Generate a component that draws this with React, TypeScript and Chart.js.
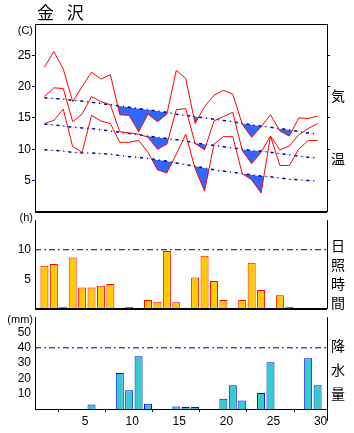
import React, { useEffect, useRef } from 'react';
import { Chart, registerables } from 'chart.js';
Chart.register(...registerables);

const days = [1,2,3,4,5,6,7,8,9,10,11,12,13,14,15,16,17,18,19,20,21,22,23,24,25,26,27,28,29,30];
const maxTemp = [23.1,25.6,22.8,17.6,20.0,22.3,21.2,21.9,15.5,15.4,12.8,15.6,14.4,15.6,22.6,21.3,14.1,16.8,18.6,19.4,18.8,14.0,11.9,13.6,15.5,12.9,12.1,15.0,14.9,15.3];
const meanTemp = [18.4,19.8,19.7,14.4,15.6,18.4,17.6,17.1,12.8,12.6,12.4,11.9,10.0,10.8,16.3,16.5,10.9,9.9,14.5,15.2,15.9,9.8,7.7,9.5,12.1,9.9,10.5,12.3,13.3,14.1];
const minTemp = [14.1,14.6,16.4,10.4,9.5,15.4,14.5,14.1,11.1,11.1,11.4,9.5,6.7,6.2,9.2,12.4,6.9,3.3,10.8,12.0,12.0,6.1,5.1,3.0,12.1,7.4,7.4,10.0,11.4,11.4];
const normalMax = [18.2,18.1,18.0,17.8,17.7,17.5,17.3,17.1,16.9,16.7,16.5,16.3,16.1,15.9,15.6,15.4,15.2,15.0,14.8,14.6,14.4,14.1,13.9,13.7,13.5,13.3,13.1,12.8,12.6,12.4];
const normalMean = [14.0,13.9,13.7,13.5,13.4,13.3,13.1,12.9,12.7,12.5,12.3,12.1,11.9,11.7,11.5,11.3,11.0,10.8,10.6,10.4,10.2,10.0,9.8,9.7,9.5,9.3,9.1,8.9,8.7,8.6];
const normalMin = [9.9,9.8,9.7,9.5,9.4,9.4,9.3,9.2,9.0,8.8,8.7,8.5,8.3,8.1,7.8,7.5,7.3,7.0,6.7,6.5,6.3,6.1,5.9,5.7,5.6,5.4,5.2,5.1,5.0,4.9];
const sunshine = [7.3,7.6,0,8.7,3.6,3.6,3.9,4.2,null,0,null,1.5,1.2,9.8,1.1,null,5.3,9.0,4.7,1.5,null,1.5,7.8,3.2,null,2.3,0.3,null,null,null];
const precipitation = [null,null,null,null,null,2.9,null,null,23.5,12.3,34.4,3.5,null,null,1.7,0,0,null,null,6.7,15.6,5.6,null,10.4,30.6,null,null,null,33.1,15.6];

const tempTicks = [5,10,15,20,25];
const sunTicks = [5,10];
const precipTicks = [10,20,30,40,50];
const dayTicks = [5,10,15,20,25,30];
const tempRange = [0,30];
const sunRange = [0,15];
const precipRange = [0,60];
const dayRange = [0,31];
const sunReference = 10;
const precipReference = 40;

const W = 354;
const NAVY = '#000080';
const FONT = { family: '"Liberation Sans", Arial, sans-serif', size: 12 };

const pts = (arr: (number | null)[]) => days.map((d, i) => ({ x: d, y: arr[i] }));
const refLine = (v: number) => [{ x: dayRange[0], y: v }, { x: dayRange[1], y: v }];

const framePlugin = {
  id: 'frame',
  afterDraw(chart: any, _args: any, opts: any) {
    const { ctx, chartArea: a } = chart;
    ctx.save();
    ctx.strokeStyle = '#000';
    const h = (y: number, w: number) => {
      ctx.lineWidth = w;
      ctx.beginPath();
      const yy = w % 2 === 1 ? Math.round(y) + 0.5 : Math.round(y);
      ctx.moveTo(a.left, yy);
      ctx.lineTo(a.right, yy);
      ctx.stroke();
    };
    if (opts.top) h(a.top, opts.top);
    if (opts.bottom) h(a.bottom, opts.bottom);
    if (opts.right) {
      ctx.lineWidth = 1;
      ctx.beginPath();
      ctx.moveTo(Math.round(a.right) + 0.5, a.top);
      ctx.lineTo(Math.round(a.right) + 0.5, a.bottom + (opts.rightExtend || 0));
      ctx.stroke();
    }
    ctx.restore();
  },
};

function yAxis(range: number[], ticks: number[], tickColor: string) {
  return {
    type: 'linear',
    position: 'left',
    min: range[0],
    max: range[1],
    afterFit: (s: any) => { s.width = 35; },
    afterBuildTicks: (s: any) => { s.ticks = ticks.map((v) => ({ value: v })); },
    border: { color: '#000', width: 1 },
    grid: { drawOnChartArea: false, tickLength: 3, color: tickColor },
    ticks: { color: '#000', font: FONT, padding: 1 },
  };
}

function hiddenX() {
  return { type: 'linear', min: dayRange[0], max: dayRange[1], display: false, offset: false };
}

function useChart(ref: any, build: () => any) {
  useEffect(() => {
    const chart = new Chart(ref.current, build());
    return () => chart.destroy();
  }, []);
}

const base = {
  responsive: false,
  animation: false,
  devicePixelRatio: 1,
};

function TempChart() {
  const ref = useRef<HTMLCanvasElement>(null);
  useChart(ref, () => {
    const red = (data: number[], target: number) => ({
      type: 'line', data: pts(data), borderColor: '#ff0000', borderWidth: 1, pointRadius: 0, tension: 0,
      fill: { target, above: 'rgba(0,0,0,0)', below: '#3366ff' },
    });
    const normal = (data: number[]) => ({
      type: 'line', data: pts(data), borderColor: NAVY, borderWidth: 1.5, borderDash: [3, 4, 1, 4], pointRadius: 0, tension: 0, fill: false,
    });
    return {
      type: 'line',
      data: { datasets: [red(maxTemp, 3), red(meanTemp, 4), red(minTemp, 5), normal(normalMax), normal(normalMean), normal(normalMin)] },
      options: {
        ...base,
        layout: { padding: { top: 24, bottom: 4, right: 27, left: 0 } },
        scales: {
          x: hiddenX(),
          y: yAxis(tempRange, tempTicks, NAVY),
          yR: {
            type: 'linear', position: 'right', min: tempRange[0], max: tempRange[1],
            afterFit: (s: any) => { s.width = 0; },
            afterBuildTicks: (s: any) => { s.ticks = tempTicks.map((v) => ({ value: v })); },
            border: { color: '#000', width: 1 },
            grid: { drawOnChartArea: false, tickLength: 3, color: NAVY },
            ticks: { display: false },
          },
        },
        plugins: { legend: { display: false }, tooltip: { enabled: false }, filler: { drawTime: 'beforeDatasetsDraw' }, frame: { top: 1, bottom: 2, right: true } },
      },
      plugins: [framePlugin],
    };
  });
  return <canvas ref={ref} width={W} height={220} style={{ position: 'absolute', left: 0, top: 0, width: W, height: 220 }} />;
}

function SunChart() {
  const ref = useRef<HTMLCanvasElement>(null);
  useChart(ref, () => ({
    type: 'bar',
    data: {
      datasets: [
        { type: 'line', data: refLine(sunReference), borderColor: NAVY, borderWidth: 1, borderDash: [6, 3, 2, 3], pointRadius: 0 },
        { type: 'bar', data: pts(sunshine), backgroundColor: '#ffcc00', borderColor: '#ff0000', borderWidth: 1, barPercentage: 0.85, categoryPercentage: 1, minBarLength: 2 },
      ],
    },
    options: {
      ...base,
      layout: { padding: { top: 4, bottom: 4, right: 27, left: 0 } },
      scales: { x: hiddenX(), y: yAxis(sunRange, sunTicks, 'rgba(0,0,0,0)') },
      plugins: { legend: { display: false }, tooltip: { enabled: false }, frame: { bottom: 2, right: true } },
    },
    plugins: [framePlugin],
  }));
  return <canvas ref={ref} width={W} height={105} style={{ position: 'absolute', left: 0, top: 212, width: W, height: 105 }} />;
}

function PrecipChart() {
  const ref = useRef<HTMLCanvasElement>(null);
  useChart(ref, () => ({
    type: 'bar',
    data: {
      datasets: [
        { type: 'line', data: refLine(precipReference), borderColor: NAVY, borderWidth: 1, borderDash: [6, 3, 2, 3], pointRadius: 0 },
        { type: 'bar', data: pts(precipitation), backgroundColor: '#33cccc', borderColor: '#0000ff', borderWidth: 1, barPercentage: 0.85, categoryPercentage: 1, minBarLength: 2 },
      ],
    },
    options: {
      ...base,
      layout: { padding: { top: 4, bottom: 0, right: 27, left: 0 } },
      scales: {
        x: {
          type: 'linear', min: dayRange[0], max: dayRange[1], offset: false,
          afterFit: (s: any) => { s.height = 24; },
          afterBuildTicks: (s: any) => { s.ticks = dayTicks.map((v) => ({ value: v })); },
          border: { color: '#000', width: 1 },
          grid: { drawOnChartArea: false, tickLength: 3, color: NAVY },
          ticks: { color: '#000', font: FONT, padding: 2, labelOffset: 3, maxRotation: 0 },
        },
        y: yAxis(precipRange, precipTicks, 'rgba(0,0,0,0)'),
      },
      plugins: { legend: { display: false }, tooltip: { enabled: false }, frame: { right: true, rightExtend: 12 } },
    },
    plugins: [framePlugin],
  }));
  return <canvas ref={ref} width={W} height={124} style={{ position: 'absolute', left: 0, top: 309, width: W, height: 124 }} />;
}

const cjk = '"Noto Sans CJK JP", sans-serif';
const unitStyle: any = { position: 'absolute', left: 0, width: 33, textAlign: 'right', fontFamily: '"Liberation Sans", Arial, sans-serif', fontSize: 11, lineHeight: '12px', color: '#000' };
const vStyle = (top: number, spacing: number): any => ({
  position: 'absolute', left: 331, top, writingMode: 'vertical-rl', textOrientation: 'upright',
  fontFamily: cjk, fontSize: 14, lineHeight: '14px', letterSpacing: spacing, color: '#000',
});

export default function App() {
  return (
    <div style={{ position: 'absolute', left: 0, top: 0, width: W, height: 433, background: '#fff', overflow: 'hidden' }}>
      <TempChart />
      <SunChart />
      <PrecipChart />
      <div style={{ position: 'absolute', left: 37, top: 2, fontFamily: cjk, fontSize: 17, lineHeight: '20px', wordSpacing: 9, color: '#000' }}>金 沢</div>
      <div style={{ ...unitStyle, top: 24 }}>(C)</div>
      <div style={{ ...unitStyle, top: 211 }}>(h)</div>
      <div style={{ ...unitStyle, top: 313 }}>(mm)</div>
      <div style={vStyle(89, 49)}>気温</div>
      <div style={vStyle(239, 5)}>日照時間</div>
      <div style={vStyle(339, 10)}>降水量</div>
    </div>
  );
}
